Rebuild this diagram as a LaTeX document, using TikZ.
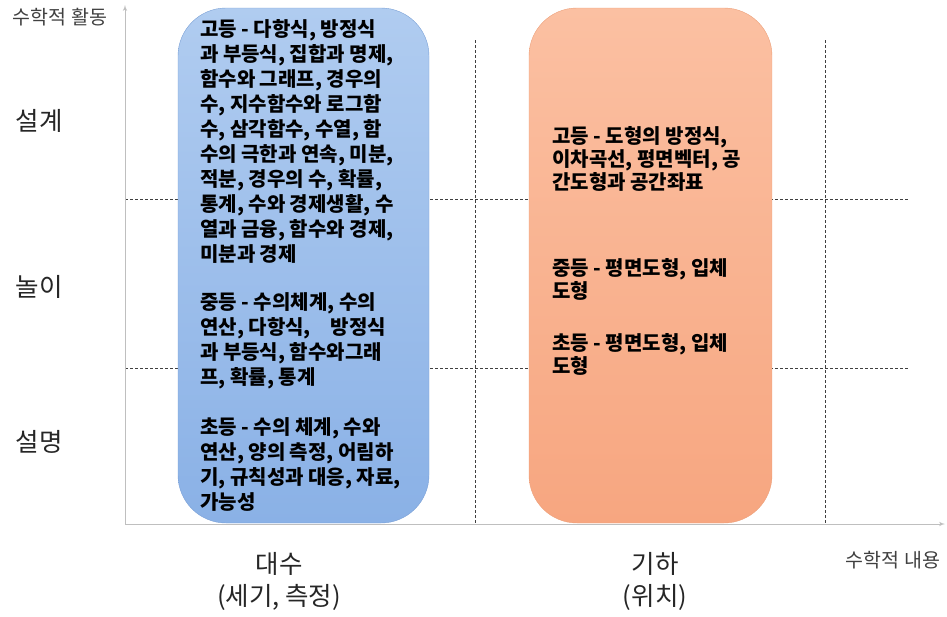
\documentclass[tikz,border=0pt]{standalone}
\usepackage{fontspec}
\setmainfont{Noto Sans CJK KR}
\usetikzlibrary{arrows}
\definecolor{algtop}{RGB}{176,204,240}
\definecolor{algbot}{RGB}{138,177,230}
\definecolor{algline}{RGB}{122,160,214}
\definecolor{geotop}{RGB}{251,192,162}
\definecolor{geobot}{RGB}{247,166,128}
\definecolor{geoline}{RGB}{236,160,122}
\begin{document}
\begin{tikzpicture}[x=1pt,y=-1pt,>=latex',
    grid/.style={dash pattern=on 3pt off 2pt,black!75,line width=0.6pt},
    axis/.style={->,black!25,line width=1pt},
    box/.style={draw,rounded corners=48pt,minimum height=515pt,inner sep=0pt},
    entry/.style={anchor=north west,align=left,inner sep=0pt,font=\fontsize{20}{25}\selectfont\bfseries},
    level/.style={font=\fontsize{25.5}{32}\selectfont,text=black!85},
    axislabel/.style={font=\fontsize{19.5}{22}\selectfont,text=black!75}]
    \useasboundingbox (0,0) rectangle (947,616);
    % axes and grid
    \coordinate (origin) at (125,524);
    \coordinate (ytip) at (125,5);
    \coordinate (xtip) at (945,524);
    \foreach \y in {199,368} \draw[grid] (125,\y) -- (908,\y);
    \foreach \x in {475,825} \draw[grid] (\x,40) -- (\x,524);
    \draw[axis] (origin) -- (ytip);
    \draw[axis] (origin) -- (xtip);
    % boxes
    \node (algbox) [box,draw=algline,top color=algtop,bottom color=algbot,minimum width=251pt] at (303.5,265.5) {};
    \node (geobox) [box,draw=geoline,top color=geotop,bottom color=geobot,minimum width=243pt] at (650.5,265.5) {};
    % algebra contents
    \node (alghigh) [entry] at (200,19) {고등 - 다항식, 방정식\\과 부등식, 집합과 명제,\\함수와 그래프, 경우의\\수, 지수함수와 로그함\\수, 삼각함수, 수열, 함\\수의 극한과 연속, 미분,\\적분, 경우의 수, 확률,\\통계, 수와 경제생활, 수\\열과 금융, 함수와 경제,\\미분과 경제};
    \node (algmid) [entry] at (200,292.5) {중등 - 수의체계, 수의\\연산, 다항식,\hspace{1em}방정식\\과 부등식, 함수와그래\\프, 확률, 통계};
    \node (algelem) [entry] at (200,417) {초등 - 수의 체계, 수와\\연산, 양의 측정, 어림하\\기, 규칙성과 대응, 자료,\\가능성};
    % geometry contents
    \node (geohigh) [entry,font=\fontsize{20}{23.3}\selectfont\bfseries] at (552,126) {고등 - 도형의 방정식,\\이차곡선, 평면벡터, 공\\간도형과 공간좌표};
    \node (geomid) [entry,font=\fontsize{20}{23.3}\selectfont\bfseries] at (552,258) {중등 - 평면도형, 입체\\도형};
    \node (geoelem) [entry,font=\fontsize{20}{23.3}\selectfont\bfseries] at (552,333) {초등 - 평면도형, 입체\\도형};
    % labels
    \node (activity) [axislabel] at (60,17) {수학적 활동};
    \node (content) [axislabel] at (893,560) {수학적 내용};
    \node (design) [level] at (39,121) {설계};
    \node (play) [level] at (39,287) {놀이};
    \node (explain) [level] at (39,442) {설명};
    \node (algebra) [level,align=center] at (279,581) {대수\\(세기, 측정)};
    \node (geometry) [level,align=center] at (655,581) {기하\\(위치)};
\end{tikzpicture}
\end{document}
